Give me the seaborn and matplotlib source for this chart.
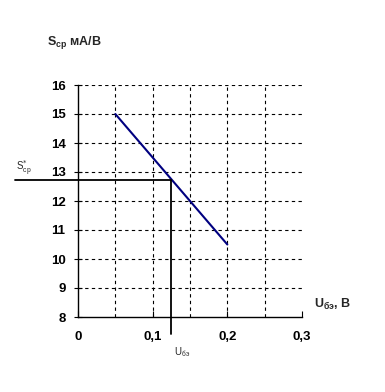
import matplotlib
matplotlib.use("Agg")
import matplotlib.pyplot as plt
import seaborn as sns
import pandas as pd

u_be = [0.05, 0.2]
s_cp = [15.0, 10.5]
x_ticks = [0, 0.1, 0.2, 0.3]
x_tick_labels = ["0", "0,1", "0,2", "0,3"]
y_ticks = [8, 9, 10, 11, 12, 13, 14, 15, 16]
x_grid = [0.05, 0.1, 0.15, 0.2, 0.25]
op_u = 0.124
op_s = 12.72

sns.set_theme(style="white")
plt.rcParams['font.family'] = ['Liberation Sans', 'DejaVu Sans']

fig = plt.figure(figsize=(3.85, 3.92), dpi=100)
ax = fig.add_axes([78/385, 75/392, 224/385, 232/392])

df = pd.DataFrame({"u": u_be, "s": s_cp})

ax.set_xlim(0, 0.3)
ax.set_ylim(8, 16)

for yv in y_ticks[1:]:
    ax.axhline(yv, color="black", lw=0.8, ls=(0, (3, 3)), zorder=1)
for xv in x_grid:
    ax.axvline(xv, color="black", lw=0.8, ls=(0, (3, 3)), zorder=1)

sns.lineplot(data=df, x="u", y="s", ax=ax, color="#000080", lw=1.5, zorder=3)

ax.plot([-0.084, op_u], [op_s, op_s], color="black", lw=1.3, clip_on=False, zorder=4)
ax.plot([op_u, op_u], [op_s, 7.4], color="black", lw=1.3, clip_on=False, zorder=4)

for sp in ["top", "right"]:
    ax.spines[sp].set_visible(False)
for sp in ["left", "bottom"]:
    ax.spines[sp].set_color("black")
    ax.spines[sp].set_linewidth(1.0)

ax.set_xticks(x_ticks)
ax.set_xticklabels(x_tick_labels)
ax.set_yticks(y_ticks)
ax.tick_params(axis="y", direction="inout", length=6, width=0.8, colors="black", pad=6, left=True)
ax.tick_params(axis="x", direction="in", length=4, width=0.8, colors="black", pad=10, bottom=True)
for lbl in ax.get_xticklabels() + ax.get_yticklabels():
    lbl.set_fontweight("bold")
    lbl.set_fontsize(9.5)
ax.set_xlabel("")
ax.set_ylabel("")

fig.text(47/385, 1 - 43/392, r"S$_{\mathregular{ср}}$ мА/В", fontsize=9, fontweight="bold",
         va="center", ha="left")
fig.text(314/385, 1 - 304/392, r"U$_{\mathregular{бэ}}$, В", fontsize=9, fontweight="bold",
         va="center", ha="left")
fig.text(16/385, 1 - 168/392, r"S$^{*}_{\mathregular{ср}}$", fontsize=7, va="center", ha="left")
fig.text(174/385, 1 - 352/392, r"U$_{\mathregular{бэ}}$", fontsize=7, va="center", ha="left")

fig.savefig("out.png", dpi=100, facecolor="white")
